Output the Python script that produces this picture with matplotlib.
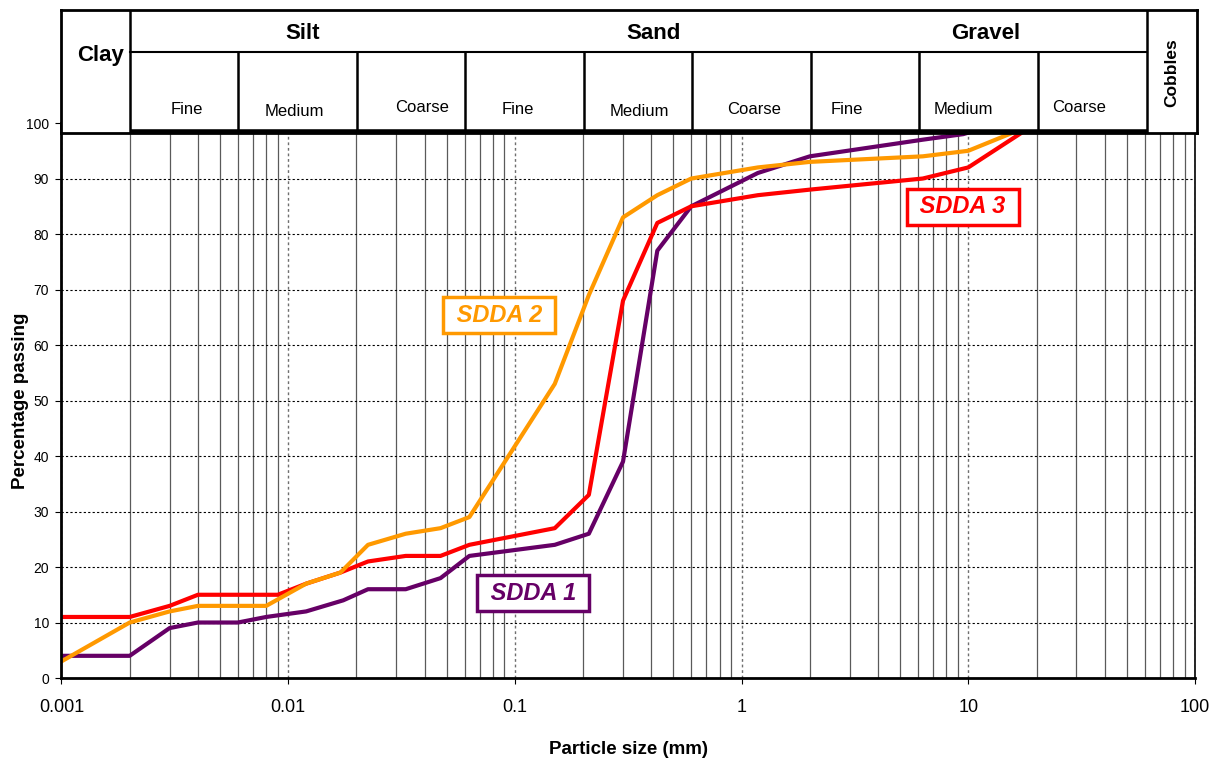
import numpy as np
import matplotlib
matplotlib.use("Agg")
import matplotlib.pyplot as plt
from matplotlib.ticker import LogLocator, FixedLocator, FuncFormatter, NullFormatter

plt.rcParams['font.family'] = ['Liberation Sans', 'DejaVu Sans']

# Sieben- und Hydrometerwerte (Partikelgröße in mm, Durchgang in %)
sdda1_size = [0.001, 0.002, 0.003, 0.004, 0.006, 0.008, 0.012, 0.0175, 0.0225, 0.033, 0.047,
              0.063, 0.15, 0.212, 0.3, 0.425, 0.6, 1.18, 2.0, 6.3, 9.5, 14]
sdda1_pass = [4, 4, 9, 10, 10, 11, 12, 14, 16, 16, 18,
              22, 24, 26, 39, 77, 85, 91, 94, 97, 98, 100]

sdda2_size = [0.001, 0.002, 0.003, 0.004, 0.006, 0.008, 0.012, 0.017, 0.0225, 0.033, 0.047,
              0.063, 0.15, 0.212, 0.3, 0.425, 0.6, 1.18, 2.0, 6.3, 10, 20]
sdda2_pass = [3, 10, 12, 13, 13, 13, 17, 19, 24, 26, 27,
              29, 53, 69, 83, 87, 90, 92, 93, 94, 95, 100]

sdda3_size = [0.001, 0.002, 0.003, 0.004, 0.006, 0.009, 0.012, 0.017, 0.0225, 0.033, 0.047,
              0.063, 0.15, 0.212, 0.3, 0.425, 0.6, 1.18, 2.0, 6.3, 10, 20]
sdda3_pass = [11, 11, 13, 15, 15, 15, 17, 19, 21, 22, 22,
              24, 27, 33, 68, 82, 85, 87, 88, 90, 92, 100]

x_ticks = [0.001, 0.01, 0.1, 1, 10, 100]
y_ticks = list(range(0, 101, 10))

# Klassengrenzen (BS)
main_bounds = [0.002, 60]
sub_bounds = [0.006, 0.02, 0.06, 0.2, 0.6, 2, 6, 20]

col_1 = "#660066"
col_2 = "#FF9900"
col_3 = "#FF0000"

fig = plt.figure(figsize=(12.17, 7.59), dpi=100)
ax = fig.add_axes([0.0505, 0.1067, 0.9314, 0.7312])

ax.set_xscale("log")
ax.set_xlim(0.001, 100)
ax.set_ylim(0, 100)

ax.xaxis.set_major_locator(FixedLocator(x_ticks))
ax.xaxis.set_major_formatter(FuncFormatter(lambda v, p: f"{v:g}"))
ax.xaxis.set_minor_locator(LogLocator(base=10, subs=np.arange(2, 10), numticks=20))
ax.xaxis.set_minor_formatter(NullFormatter())
ax.set_yticks(y_ticks)

ax.tick_params(axis="x", which="major", labelsize=13, length=4, pad=11)
ax.tick_params(axis="x", which="minor", length=0)
ax.tick_params(axis="y", labelsize=10, length=4, pad=5)

ax.xaxis.grid(True, which="minor", color="#5a5a5a", linestyle="-", linewidth=0.9)
ax.xaxis.grid(True, which="major", color="#6f6f6f", linestyle=(0, (2, 2)), linewidth=1.0)
ax.yaxis.grid(True, which="major", color="black", linestyle=(0, (2, 2)), linewidth=0.8)
ax.set_axisbelow(True)

for s in ["left", "bottom"]:
    ax.spines[s].set_linewidth(2)
ax.spines["right"].set_linewidth(1.2)
ax.spines["top"].set_visible(False)

ax.plot(sdda1_size, sdda1_pass, color=col_1, lw=3)
ax.plot(sdda3_size, sdda3_pass, color=col_3, lw=3)
ax.plot(sdda2_size, sdda2_pass, color=col_2, lw=3)

box_kw = dict(fontsize=17, fontweight="bold", fontstyle="italic", ha="center", va="center")
ax.text(0.0855, 65.4, " SDDA 2 ", color=col_2,
        bbox=dict(boxstyle="square,pad=0.28", fc="white", ec=col_2, lw=2.5), **box_kw)
ax.text(0.1207, 15.3, " SDDA 1 ", color=col_1,
        bbox=dict(boxstyle="square,pad=0.28", fc="white", ec=col_1, lw=2.5), **box_kw)
ax.text(9.44, 84.9, " SDDA 3 ", color=col_3,
        bbox=dict(boxstyle="square,pad=0.28", fc="white", ec=col_3, lw=2.5), **box_kw)

ax.set_xlabel("Particle size (mm)", fontsize=13.5, fontweight="bold", labelpad=18)
ax.set_ylabel("Percentage passing", fontsize=13.5, fontweight="bold", labelpad=-2)

# Kopfzeile mit Bodenklassen
hd = fig.add_axes([0.0505, 1 - 133 / 759, 0.9330, 123 / 759])
hd.set_zorder(5)
hd.set_facecolor("white")
hd.set_xscale("log")
hd.set_xlim(0.001, 100)
hd.set_ylim(0, 1)
hd.set_xticks([])
hd.set_yticks([])
hd.xaxis.set_minor_locator(FixedLocator([]))
for s in hd.spines.values():
    s.set_linewidth(2)

mid = 0.659
for b in main_bounds:
    hd.plot([b, b], [0, 1], color="black", lw=1.8)
hd.plot([0.002, 60], [mid, mid], color="black", lw=1.5)
for b in sub_bounds:
    hd.plot([b, b], [0, mid], color="black", lw=1.8)
hd.plot([0.002, 60], [0.005, 0.005], color="black", lw=4, solid_capstyle="butt")

hd.text(0.00148, 0.63, "Clay", fontsize=16, fontweight="bold", ha="center", va="center")
hd.text(0.01153, 0.81, "Silt", fontsize=16, fontweight="bold", ha="center", va="center")
hd.text(0.405, 0.81, "Sand", fontsize=16, fontweight="bold", ha="center", va="center")
hd.text(11.7, 0.81, "Gravel", fontsize=16, fontweight="bold", ha="center", va="center")
hd.text(77.5, 0.488, "Cobbles", fontsize=12.5, fontweight="bold", ha="center", va="center",
        rotation=90)

sub_labels = ["Fine", "Medium", "Coarse", "Fine", "Medium", "Coarse", "Fine", "Medium", "Coarse"]
sub_x = [0.00358, 0.0106, 0.0386, 0.1026, 0.351, 1.117, 2.88, 9.36, 30.4]
sub_y = [0.195, 0.171, 0.204, 0.187, 0.171, 0.187, 0.187, 0.187, 0.204]
for lab, xx, yy in zip(sub_labels, sub_x, sub_y):
    hd.text(xx, yy, lab, fontsize=12, ha="center", va="center")

fig.savefig("out.png", dpi=100)
